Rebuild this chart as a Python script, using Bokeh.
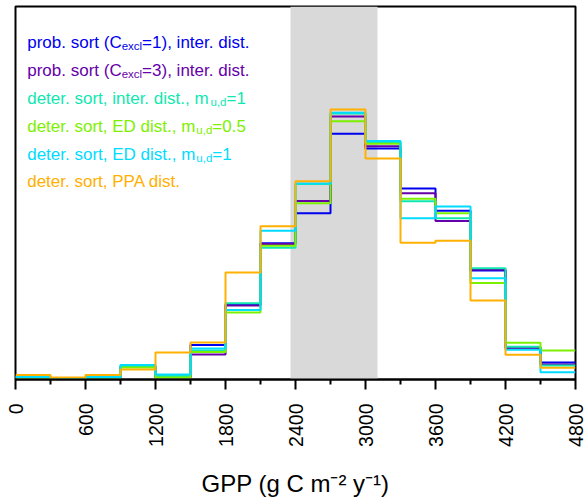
import math
from bokeh.plotting import figure
from bokeh.models import Range1d, FixedTicker, BoxAnnotation, Label
from bokeh.embed import file_html
from bokeh.resources import INLINE

# ---- data (relative frequency, %) ----
bin_edges = [0, 300, 600, 900, 1200, 1500, 1800, 2100, 2400, 2700, 3000,
             3300, 3600, 3900, 4200, 4500, 4800]

prob_c1 = [0.17, 0.07, 0.14, 0.91, 0.17, 2.40, 5.23, 9.50, 11.59, 17.13, 16.10,
           13.31, 11.76, 7.60, 2.23, 1.19]
prob_c3 = [0.17, 0.07, 0.14, 0.87, 0.14, 1.74, 5.16, 9.45, 12.44, 18.33, 16.26,
           12.99, 11.05, 7.67, 2.20, 1.05]
deter_inter = [0.17, 0.07, 0.14, 0.94, 0.24, 2.02, 5.32, 9.18, 13.63, 18.54, 16.56,
               12.43, 11.24, 7.75, 2.28, 0.98]
deter_ed05 = [0.14, 0.07, 0.14, 0.84, 0.14, 1.92, 4.67, 9.32, 12.29, 18.01, 16.43,
              12.60, 11.59, 6.73, 2.56, 2.02]
deter_ed1 = [0.17, 0.07, 0.17, 1.01, 0.35, 2.16, 4.84, 10.37, 13.66, 18.59, 16.63,
             11.24, 12.06, 7.06, 2.07, 0.50]
deter_ppa = [0.31, 0.14, 0.31, 0.70, 1.88, 2.58, 7.46, 10.69, 13.82, 18.82, 15.41,
             9.53, 9.67, 5.51, 1.73, 0.82]

band_range = [2357, 3103]
x_ticks = [0, 600, 1200, 1800, 2400, 3000, 3600, 4200, 4800]
x_minor = [300, 900, 1500, 2100, 2700, 3300, 3900, 4500]

series = [
    (prob_c1, "#0000ee", [("prob. sort (C", False), ("excl", True), ("=1), inter. dist.", False)]),
    (prob_c3, "#6600aa", [("prob. sort (C", False), ("excl", True), ("=3), inter. dist.", False)]),
    (deter_inter, "#10e8b0", [("deter. sort, inter. dist., m", False), ("u,d", True), ("=1", False)]),
    (deter_ed05, "#7cf000", [("deter. sort, ED dist., m", False), ("u,d", True), ("=0.5", False)]),
    (deter_ed1, "#00dcff", [("deter. sort, ED dist., m", False), ("u,d", True), ("=1", False)]),
    (deter_ppa, "#ffb000", [("deter. sort, PPA dist.", False)]),
]

FONT = "Liberation Sans"
MAIN_SIZE = 17
SUB_SIZE = 11.5

# Arial / Liberation Sans advance widths (per 1000 em)
W = {' ': 278, '(': 333, ')': 333, ',': 278, '.': 278, '=': 584,
     'a': 556, 'b': 556, 'c': 500, 'd': 556, 'e': 556, 'i': 222, 'l': 222,
     'm': 833, 'n': 556, 'o': 556, 'p': 556, 'r': 333, 's': 500, 't': 278,
     'u': 556, 'x': 500, 'C': 722, 'D': 722, 'E': 667, 'P': 667, 'A': 667}


def text_width(s, size):
    return sum(W.get(ch, 556) for ch in s) / 1000.0 * size


YMAX = 26.0

p = figure(frame_width=560, frame_height=373, min_border_left=15, min_border_right=10,
           min_border_top=6, min_border_bottom=4,
           x_range=Range1d(0, 4800), y_range=Range1d(0, YMAX),
           output_backend="svg", toolbar_location=None)

p.background_fill_color = "white"
p.border_fill_color = "white"
p.grid.visible = False
p.yaxis.visible = False
p.outline_line_color = "black"
p.outline_line_width = 2

p.add_layout(BoxAnnotation(left=band_range[0], right=band_range[1],
                           fill_color="#d9d9d9", fill_alpha=1.0, line_color=None,
                           level="underlay"))

for vals, col, _ in series:
    p.step(x=bin_edges, y=list(vals) + [vals[-1]], mode="after",
           line_color=col, line_width=2)

ax = p.xaxis[0]
ax.ticker = FixedTicker(ticks=x_ticks, minor_ticks=x_minor)
ax.major_label_orientation = math.pi / 2
ax.major_label_text_font = FONT
ax.major_label_text_font_size = "19.5px"
ax.major_label_text_color = "black"
ax.major_label_standoff = 14
ax.major_tick_in = 0
ax.major_tick_out = 10
ax.minor_tick_in = 0
ax.minor_tick_out = 5
ax.major_tick_line_width = 2
ax.minor_tick_line_width = 2
ax.axis_line_width = 2
ax.axis_label = "GPP (g C m\u207b\u00b2 y\u207b\u00b9)"
ax.axis_label_text_font = FONT
ax.axis_label_text_font_size = "24px"
ax.axis_label_text_font_style = "normal"
ax.axis_label_text_color = "black"
ax.axis_label_standoff = 20

# legend text (colored, with subscripts), anchored at frame top-left
x0 = 11.7
base0 = 36.3
step_y = 27.8
for i, (_, col, parts) in enumerate(series):
    xo = x0
    yb = base0 + i * step_y
    for txt, sub in parts:
        size = SUB_SIZE if sub else MAIN_SIZE
        dy = 3.5 if sub else 0.0
        p.add_layout(Label(x=0, y=YMAX, x_offset=xo, y_offset=-(yb + dy), text=txt,
                           text_font=FONT, text_font_size=f"{size}px",
                           text_color=col, text_baseline="alphabetic",
                           text_align="left"))
        xo += text_width(txt, size)

open("out.html", "w").write(file_html(p, INLINE))
